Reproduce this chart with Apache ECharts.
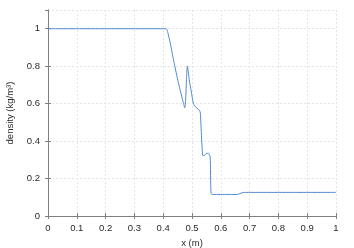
<!DOCTYPE html>
<html><head><meta charset="utf-8">
<script src="https://cdn.jsdelivr.net/npm/echarts@6/dist/echarts.min.js"></script>
<style>html,body{margin:0;padding:0;background:#fff}#c{width:354px;height:248px}</style>
</head><body><div id="c"></div>
<script>
const xs = [0, 0.1, 0.2, 0.3, 0.4, 0.411, 0.416, 0.425, 0.434, 0.451, 0.468, 0.475, 0.478, 0.481, 0.484, 0.487, 0.491, 0.497, 0.505, 0.515, 0.526, 0.529, 0.532, 0.537, 0.542, 0.549, 0.557, 0.563, 0.566, 0.571, 0.6, 0.658, 0.67, 0.682, 0.75, 0.85, 1.0];
const density = [1, 1, 1, 1, 1, 1, 0.98, 0.92, 0.847, 0.723, 0.617, 0.578, 0.62, 0.74, 0.8, 0.77, 0.72, 0.67, 0.6, 0.578, 0.564, 0.55, 0.457, 0.324, 0.322, 0.333, 0.335, 0.316, 0.12, 0.115, 0.115, 0.115, 0.122, 0.126, 0.126, 0.126, 0.126];
const xTicks = {min: 0, max: 1, interval: 0.1};
const yTicks = {min: 0, max: 1.1, interval: 0.2};
const data = xs.map((x, i) => [x, density[i]]);
const chart = echarts.init(document.getElementById('c'), null, {renderer: 'canvas'});
const font = {fontFamily: 'Liberation Sans, Arial, sans-serif', fontSize: 9.5, color: '#2a2a2a'};
const axisCol = '#808080';
const split = {show: true, lineStyle: {color: '#e4e4e4', type: [2, 2], width: 1}};
const tick = {inside: true, length: 3, lineStyle: {color: axisCol}};
chart.setOption({
  animation: false,
  grid: {left: 48, right: 18, top: 10, bottom: 32, show: false, containLabel: false, outerBoundsMode: 'none'},
  xAxis: [{
    type: 'value', min: xTicks.min, max: xTicks.max, interval: xTicks.interval,
    name: 'x (m)', nameLocation: 'middle', nameGap: 20, nameTextStyle: font,
    axisLine: {lineStyle: {color: axisCol, width: 1}},
    axisTick: tick,
    axisLabel: Object.assign({margin: 7}, font),
    splitLine: split
  }, {
    type: 'value', position: 'top', min: xTicks.min, max: xTicks.max, interval: xTicks.interval,
    axisLine: {lineStyle: {color: axisCol, width: 1}},
    axisTick: tick, axisLabel: {show: false}, splitLine: {show: false}
  }],
  yAxis: [{
    type: 'value', min: yTicks.min, max: yTicks.max, interval: yTicks.interval,
    name: 'density (kg/m³)', nameLocation: 'middle', nameGap: 33, nameTextStyle: font,
    axisLine: {lineStyle: {color: axisCol, width: 1}},
    axisTick: tick,
    axisLabel: Object.assign({margin: 8, showMaxLabel: false}, font),
    splitLine: split
  }, {
    type: 'value', position: 'right', min: yTicks.min, max: yTicks.max, interval: yTicks.interval,
    axisLine: {lineStyle: {color: axisCol, width: 1}},
    axisTick: tick, axisLabel: {show: false}, splitLine: {show: false}
  }],
  series: [{
    type: 'line', data: data, showSymbol: false, smooth: 0.2,
    lineStyle: {color: '#5088d2', width: 1}
  }]
});
</script></body></html>
